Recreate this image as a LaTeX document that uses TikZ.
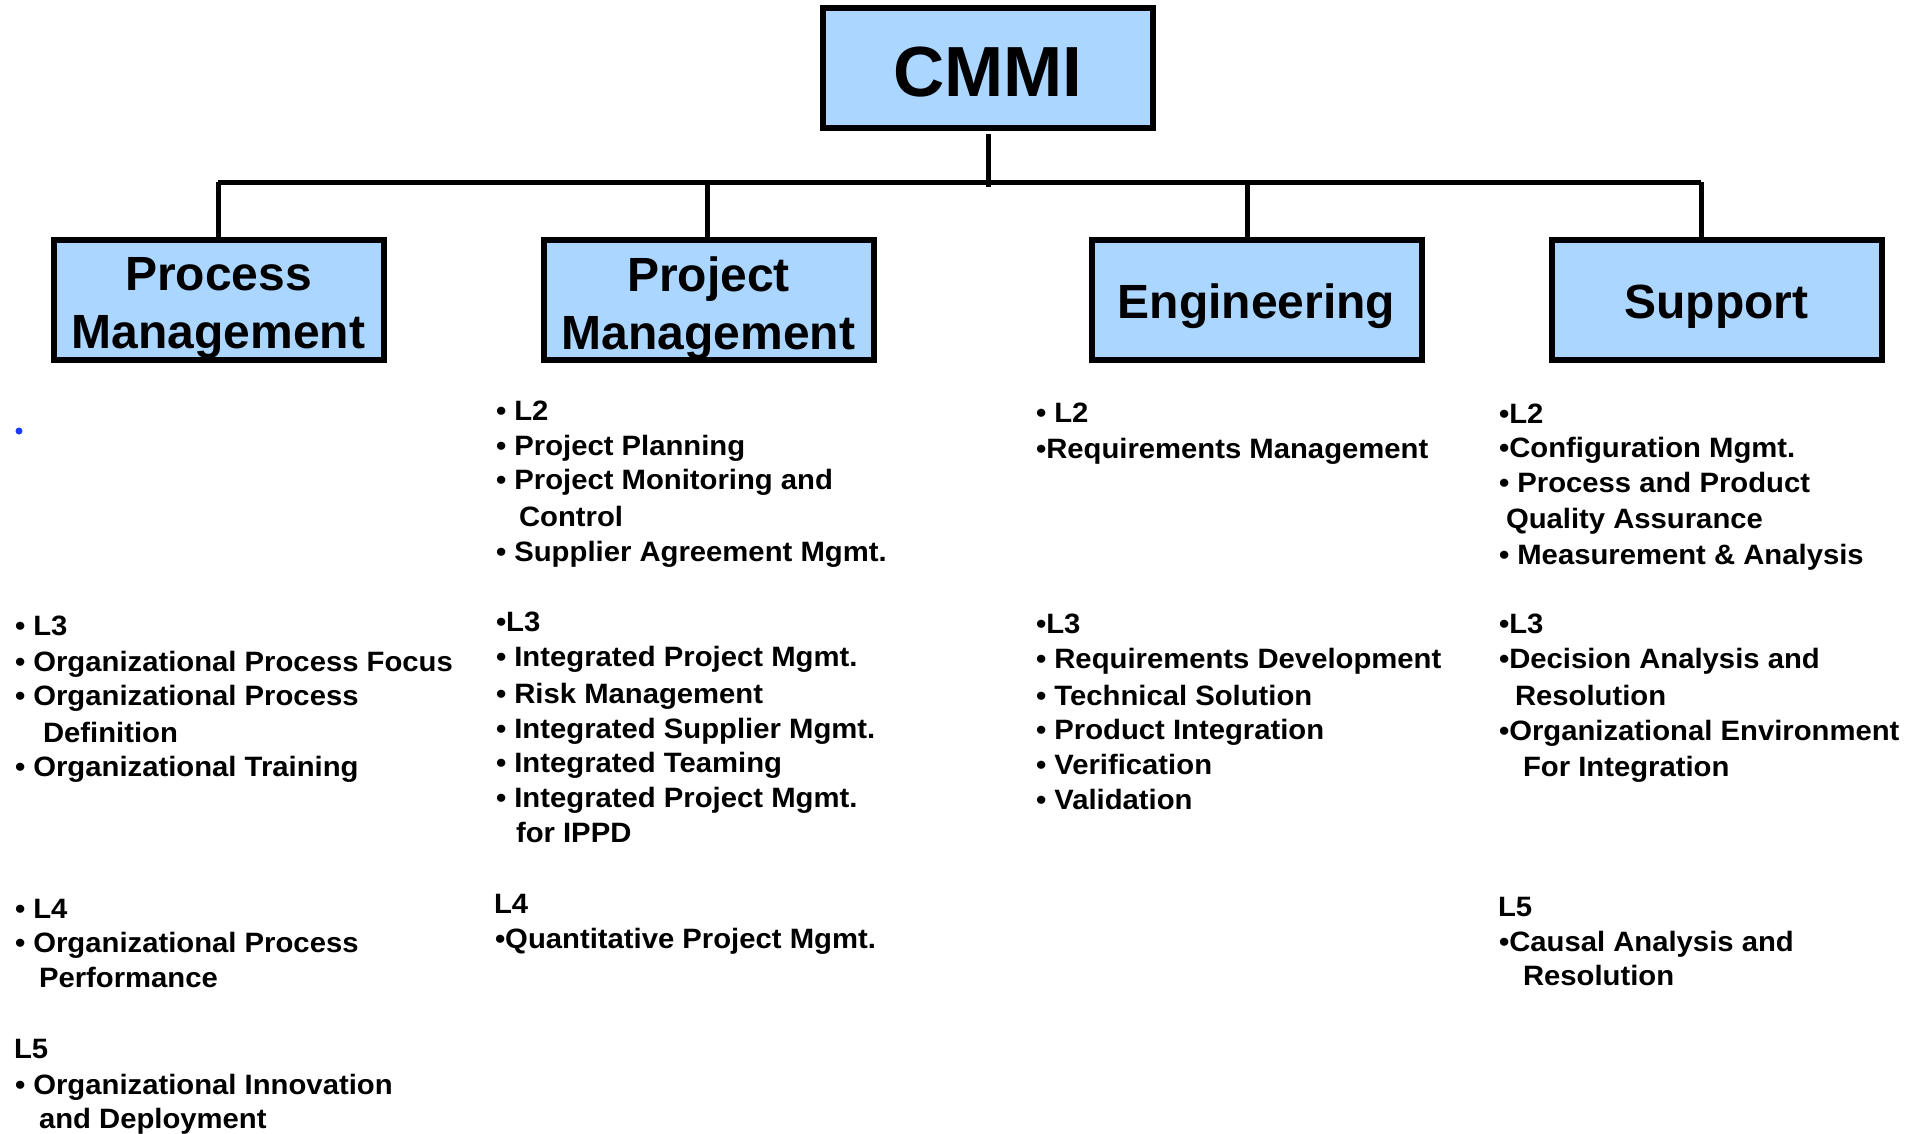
\documentclass[tikz,border=0pt]{standalone}
\usepackage{fontspec}
\setmainfont{Liberation Sans}
\newfontfamily\itemfont{Liberation Sans}[FakeStretch=1.045]
\definecolor{boxblue}{RGB}{170,214,255}
\definecolor{dotblue}{RGB}{30,60,255}
\begin{document}
\begin{tikzpicture}[x=1pt,y=-1pt,
  box/.style={draw=black, line width=6pt, fill=boxblue, minimum width=330pt, minimum height=120pt, inner sep=0pt, outer sep=0pt},
  boxtext/.style={inner sep=0pt, align=center, font=\fontsize{48}{58}\selectfont\bfseries},
  item/.style={anchor=base west, inner sep=0pt, outer sep=0pt, font=\itemfont\fontsize{28}{34}\selectfont\bfseries},
  conn/.style={line width=5pt}]
\useasboundingbox (0,0) rectangle (1919,1133);
% boxes
\node[box] (cmmi) at (988,68) {};
\node[boxtext, font=\fontsize{71}{80}\selectfont\bfseries] (cmmit) at ([yshift=-4pt]cmmi.center) {CMMI};
\node[box] (pm) at (218.5,300) {};
\node[boxtext] (pmt) at ([yshift=-8.5pt]pm.center) {Process\\Management};
\node[box] (prj) at (708.5,300) {};
\node[boxtext] (prjt) at ([yshift=-8.5pt]prj.center) {Project\\Management};
\node[box] (eng) at (1256.5,300) {};
\node[boxtext] (engt) at ([yshift=-6pt]eng.center) {Engineering};
\node[box] (sup) at (1716.5,300) {};
\node[boxtext] (supt) at ([yshift=-7pt]sup.center) {Support};
% connectors
\coordinate (barL) at (218,182);
\coordinate (barR) at (1701,182);
\coordinate (trunk) at (988,187);
\draw[conn] ([yshift=-6pt]cmmi.south) -- (trunk);
\draw[conn] (barL) -- (barR);
\draw[conn] (barL) -- (pm.north -| barL);
\draw[conn] (prj.north -| 707,0) -- (707,182);
\draw[conn] (eng.north -| 1247,0) -- (1247,182);
\draw[conn] (sup.north -| barR) -- (barR);
% Process Management column
\fill[dotblue] (19,431) circle (3.5pt);
\node[item] (a1) at (15,635.5) {• L3};
\node[item] (a2) at (15,671.5) {• Organizational Process Focus};
\node[item] (a3) at (15,705.5) {• Organizational Process};
\node[item] (a4) at (43,742.5) {Definition};
\node[item] (a5) at (15,776.5) {• Organizational Training};
\node[item] (a6) at (15,918.5) {• L4};
\node[item] (a7) at (15,952.5) {• Organizational Process};
\node[item] (a8) at (39,987.5) {Performance};
\node[item] (a9) at (14,1058) {L5};
\node[item] (a10) at (15,1094.5) {• Organizational Innovation};
\node[item] (a11) at (39,1128) {and Deployment};
% Project Management column
\node[item] (b1) at (496,420.5) {• L2};
\node[item] (b2) at (496,455.5) {• Project Planning};
\node[item] (b3) at (496,489.5) {• Project Monitoring and};
\node[item] (b4) at (519,526) {Control};
\node[item] (b5) at (496,561) {• Supplier Agreement Mgmt.};
\node[item] (b6) at (496,631.5) {•L3};
\node[item] (b7) at (496,666.5) {• Integrated Project Mgmt.};
\node[item] (b8) at (496,703) {• Risk Management};
\node[item] (b9) at (496,738) {• Integrated Supplier Mgmt.};
\node[item] (b10) at (496,772) {• Integrated Teaming};
\node[item] (b11) at (496,807.5) {• Integrated Project Mgmt.};
\node[item] (b12) at (516,842) {for IPPD};
\node[item] (b13) at (494,913.5) {L4};
\node[item] (b14) at (495,948) {•Quantitative Project Mgmt.};
% Engineering column
\node[item] (c1) at (1036,422.5) {• L2};
\node[item] (c2) at (1036,458) {•Requirements Management};
\node[item] (c3) at (1036,633.5) {•L3};
\node[item] (c4) at (1036,668.5) {• Requirements Development};
\node[item] (c5) at (1036,705.5) {• Technical Solution};
\node[item] (c6) at (1036,739.5) {• Product Integration};
\node[item] (c7) at (1036,774.5) {• Verification};
\node[item] (c8) at (1036,809.5) {• Validation};
% Support column
\node[item] (d1) at (1499,423.5) {•L2};
\node[item] (d2) at (1499,457.5) {•Configuration Mgmt.};
\node[item] (d3) at (1499,492.5) {• Process and Product};
\node[item] (d4) at (1506,528.5) {Quality Assurance};
\node[item] (d5) at (1499,564) {• Measurement \& Analysis};
\node[item] (d6) at (1499,633.5) {•L3};
\node[item] (d7) at (1499,668.5) {•Decision Analysis and};
\node[item] (d8) at (1515,705.5) {Resolution};
\node[item] (d9) at (1499,740.5) {•Organizational Environment};
\node[item] (d10) at (1523,776) {For Integration};
\node[item] (d11) at (1498,916.5) {L5};
\node[item] (d12) at (1499,951.5) {•Causal Analysis and};
\node[item] (d13) at (1523,985.5) {Resolution};
\end{tikzpicture}
\end{document}
